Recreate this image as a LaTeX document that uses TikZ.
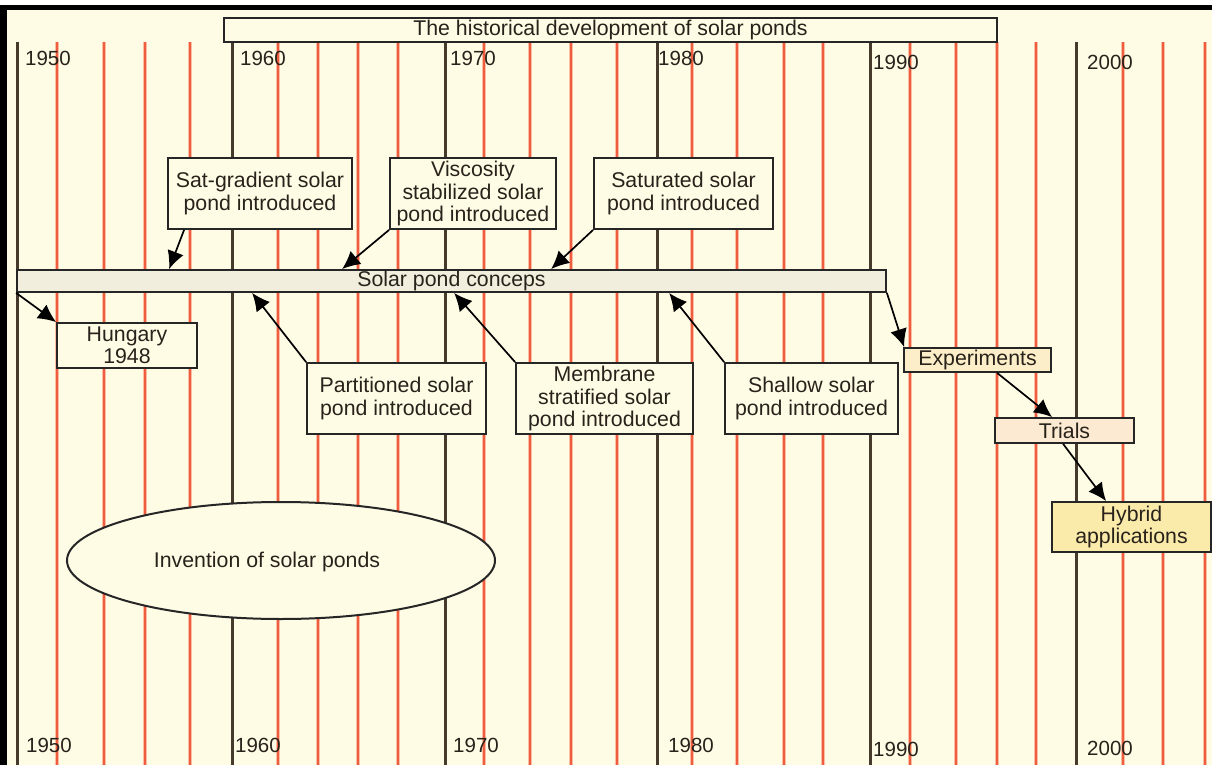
\documentclass[tikz,border=0pt]{standalone}
\usepackage{fontspec}
\setmainfont{Liberation Sans}
\usetikzlibrary{arrows.meta,calc,shapes.geometric}
\definecolor{bg}{RGB}{255,252,230}
\definecolor{redl}{RGB}{240,92,62}
\definecolor{redhalo}{RGB}{250,190,165}
\definecolor{darkl}{RGB}{70,58,45}
\definecolor{barfill}{RGB}{242,238,222}
\definecolor{expfill}{RGB}{251,238,200}
\definecolor{trialfill}{RGB}{252,235,210}
\definecolor{hybfill}{RGB}{250,235,170}
\definecolor{txt}{RGB}{40,34,26}
\begin{document}
\begin{tikzpicture}[x=1pt,y=-1pt,
  box/.style={draw=black!85, line width=1.8pt, fill=bg, inner sep=0pt, align=center,
    font=\fontsize{21.3}{22.5}\selectfont, text=txt},
  yr/.style={anchor=west, font=\fontsize{20.5}{22}\selectfont, text=txt, inner sep=0pt},
  redhalo/.style={draw=redhalo, line width=4pt},
  redline/.style={draw=redl, line width=2pt},
  darkline/.style={draw=darkl, line width=3pt},
  arr/.style={-{Latex[length=18pt,width=17pt]}, line width=1.7pt, black}]
\useasboundingbox (0,0) rectangle (1212,765);
\fill[bg] (0,0) rectangle (1212,765);
\fill[white] (0,0) rectangle (1212,5);
\fill[black] (0,5) rectangle (1212,10);
\fill[black] (0,5) rectangle (7,765);
% grid lines
\foreach \x in {57,104,145,190,278,318,358,398,484,530,571,617,692,737,784,823,910,956,997,1036,1123,1163,1205}
  {\draw[redhalo] (\x,42) -- (\x,765);
   \draw[redline] (\x,42) -- (\x,765);}
\foreach \x in {17,232,445,657,870,1076}
  \draw[darkline] (\x,42) -- (\x,765);
% year labels
\node[yr] (t1950) at (25,58) {1950};
\node[yr] (t1960) at (240,58) {1960};
\node[yr] (t1970) at (450,58) {1970};
\node[yr] (t1980) at (658,58) {1980};
\node[yr] (t1990) at (873,62) {1990};
\node[yr] (t2000) at (1087,62) {2000};
\node[yr] (b1950) at (26,745) {1950};
\node[yr] (b1960) at (235,745) {1960};
\node[yr] (b1970) at (453,745) {1970};
\node[yr] (b1980) at (668,745) {1980};
\node[yr] (b1990) at (873,749) {1990};
\node[yr] (b2000) at (1087,748) {2000};
% boxes
\node[box, minimum width=773pt, minimum height=24pt] (title) at (610.5,30) {The historical development of solar ponds};
\node[box, fill=barfill, minimum width=869pt, minimum height=22pt] (bar) at (451.5,281) {Solar pond conceps};
\node[box, minimum width=140pt, minimum height=45pt] (hung) at (127,345.5) {Hungary\\1948};
\node[box, minimum width=184pt, minimum height=71pt] (sat) at (260,193.5) {Sat-gradient solar\\pond introduced};
\node[box, minimum width=166pt, minimum height=71pt] (visc) at (473,193.5) {Viscosity\\stabilized solar\\pond introduced};
\node[box, minimum width=179pt, minimum height=71pt] (satd) at (683.5,193.5) {Saturated solar\\pond introduced};
\node[box, minimum width=179pt, minimum height=71pt] (part) at (396.5,398.5) {Partitioned solar\\pond introduced};
\node[box, minimum width=177pt, minimum height=71pt] (memb) at (604.5,398.5) {Membrane\\stratified solar\\pond introduced};
\node[box, minimum width=173pt, minimum height=71pt] (shal) at (811.5,398.5) {Shallow solar\\pond introduced};
\node[box, fill=expfill, minimum width=147pt, minimum height=24pt] (exp) at (977.5,360) {Experiments};
\node[box, fill=trialfill, minimum width=139pt, minimum height=25pt] (trial) at (1064.5,430.5) {Trials};
\node[box, fill=hybfill, minimum width=159pt, minimum height=50pt] (hyb) at (1131.5,527) {Hybrid\\applications};
\node[box, ellipse, line width=2pt, minimum width=428pt, minimum height=117pt] (inv) at (281,560.5) {};
\node[font=\fontsize{21.3}{22.5}\selectfont, text=txt, inner sep=0pt] (invt) at (267,562) {Invention of solar ponds};
% connectors
\draw[arr] ($(sat.south west)+(17,0)$) -- ($(bar.north west)+(153,0)$);
\draw[arr] (visc.south west) -- ($(bar.north west)+(326,0)$);
\draw[arr] (satd.south west) -- ($(bar.north west)+(535,0)$);
\draw[arr] (part.north west) -- ($(bar.south west)+(236,0)$);
\draw[arr] (memb.north west) -- ($(bar.south west)+(438,0)$);
\draw[arr] (shal.north west) -- ($(bar.south west)+(653,0)$);
\draw[arr] (bar.south west) -- (hung.north west);
\draw[arr] (bar.south east) -- ($(exp.north west)+(1,0)$);
\draw[arr] ($(exp.south west)+(94,0)$) -- ($(trial.north west)+(58,0)$);
\draw[arr] ($(trial.south west)+(69,0)$) -- ($(hyb.north west)+(55,0)$);
\end{tikzpicture}
\end{document}
